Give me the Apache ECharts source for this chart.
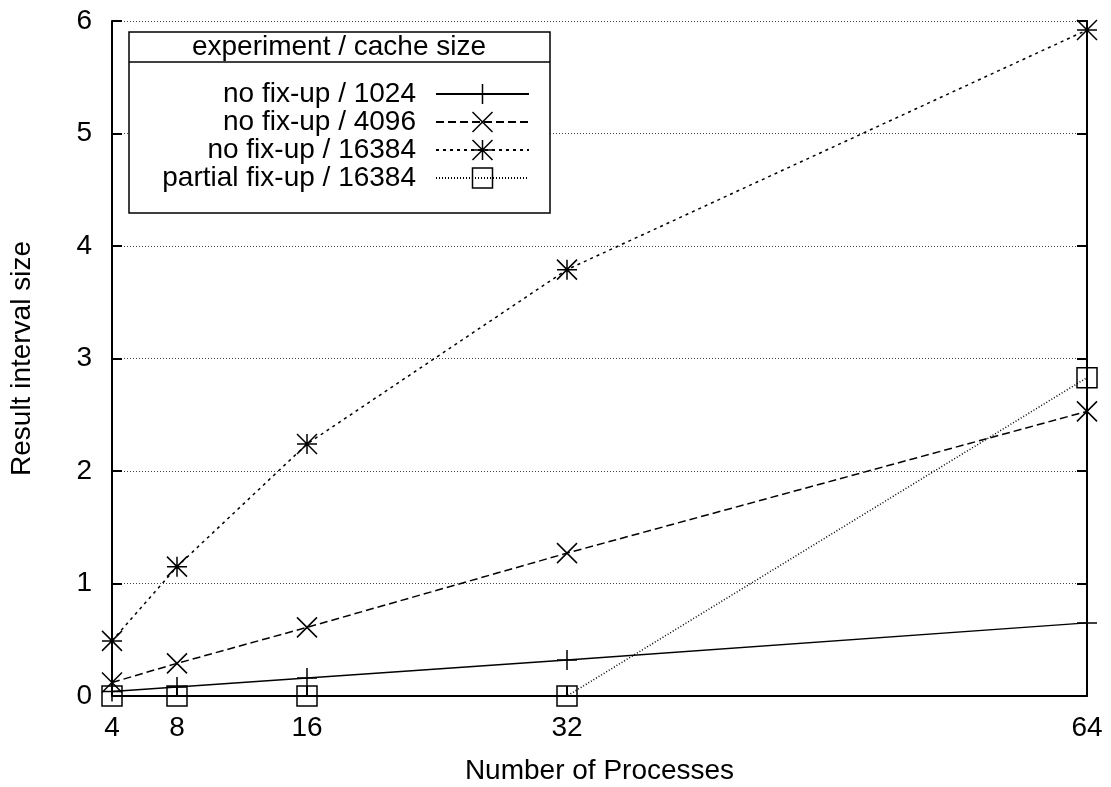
<!DOCTYPE html>
<html>
<head>
<meta charset="utf-8">
<title>Result interval size vs. number of processes</title>
<script src="https://cdn.jsdelivr.net/npm/echarts@6/dist/echarts.min.js"></script>
<style>
  html, body { margin: 0; padding: 0; background: #fff; }
  #chart { width: 1111px; height: 787px; }
</style>
</head>
<body>
<div id="chart"></div>
<script>
// Process counts on the x axis and their tick labels
const processes = [4, 8, 16, 32, 64];
const xTicks = [4, 8, 16, 32, 64];

// Result interval size per experiment / cache size
const noFix1024 = [0.04, 0.08, 0.16, 0.32, 0.65];
const noFix4096 = [0.12, 0.29, 0.61, 1.27, 2.53];
const noFix16384 = [0.49, 1.15, 2.24, 3.79, 5.92];
const partialFix16384 = [0, 0, 0, 0, 2.83];

const seriesNames = [
  'no fix-up / 1024',
  'no fix-up / 4096',
  'no fix-up / 16384',
  'partial fix-up / 16384'
];
const legendTitle = 'experiment / cache size';

const FONT = '"Liberation Sans", Arial, Helvetica, sans-serif';
const FS = 28;

// gnuplot-like point shapes drawn as stroked paths
const SYM_PLUS = 'path://M10,0V20M0,10H20';
const SYM_CROSS = 'path://M0,0L20,20M20,0L0,20';
const SYM_STAR = 'path://M10,0V20M0,10H20M0,0L20,20M20,0L0,20';
const SYM_BOX = 'path://M0,0H20V20H0Z';

function pairs(values) {
  return processes.map((p, i) => [p, values[i]]);
}

function makeSeries(name, values, symbol, dash) {
  return {
    name: name,
    type: 'line',
    data: pairs(values),
    symbol: symbol,
    symbolSize: 20,
    showAllSymbol: true,
    lineStyle: { color: '#000', width: 1.5, type: dash },
    itemStyle: { color: 'transparent', borderColor: '#000', borderWidth: 1.5 },
    emphasis: { disabled: true },
    z: 3
  };
}

const chart = echarts.init(document.getElementById('chart'));

const option = {
  animation: false,
  backgroundColor: '#fff',
  textStyle: { fontFamily: FONT },
  grid: {
    left: 112, right: 24, top: 21, bottom: 91,
    containLabel: false,
    outerBoundsMode: 'none'
  },
  xAxis: {
    type: 'value',
    min: 4,
    max: 64,
    name: 'Number of Processes',
    nameLocation: 'middle',
    nameGap: 61,
    nameTextStyle: { fontFamily: FONT, fontSize: FS, color: '#000' },
    axisLine: { show: true, onZero: false, lineStyle: { color: '#000', width: 2 } },
    axisTick: { show: true, inside: true, length: 10, customValues: xTicks, lineStyle: { color: '#000', width: 2 } },
    axisLabel: { customValues: xTicks, fontFamily: FONT, fontSize: FS, color: '#000', margin: 18 },
    splitLine: { show: false }
  },
  yAxis: [
    {
      type: 'value',
      min: 0,
      max: 6,
      interval: 1,
      name: 'Result interval size',
      nameLocation: 'middle',
      nameGap: 76,
      nameRotate: 90,
      nameTextStyle: { fontFamily: FONT, fontSize: FS, color: '#000' },
      axisLine: { show: true, lineStyle: { color: '#000', width: 2 } },
      axisTick: { show: true, inside: true, length: 10, lineStyle: { color: '#000', width: 2 } },
      axisLabel: { fontFamily: FONT, fontSize: FS, color: '#000', margin: 20 },
      splitLine: { show: true, lineStyle: { color: '#444', width: 1, type: [1, 2] } }
    },
    {
      type: 'value',
      position: 'right',
      min: 0,
      max: 6,
      interval: 1,
      axisLine: { show: true, lineStyle: { color: '#000', width: 2 } },
      axisTick: { show: true, inside: true, length: 10, lineStyle: { color: '#000', width: 2 } },
      axisLabel: { show: false },
      splitLine: { show: false }
    }
  ],
  legend: {
    orient: 'vertical',
    align: 'right',
    right: 581,
    top: 80,
    padding: 0,
    itemGap: 0,
    itemWidth: 93,
    itemHeight: 25,
    selectedMode: false,
    z: 8,
    textStyle: {
      fontFamily: FONT, fontSize: FS, color: '#000',
      lineHeight: 25, padding: [0, 15, 0, 0]
    },
    itemStyle: { borderWidth: 1.5, borderColor: '#000', color: 'transparent' },
    data: seriesNames
  },
  graphic: [
    {
      type: 'rect',
      z: 7,
      shape: { x: 129, y: 32, width: 421, height: 181 },
      style: { fill: '#fff', stroke: '#000', lineWidth: 1.5 }
    },
    {
      type: 'line',
      z: 7,
      shape: { x1: 129, y1: 62, x2: 550, y2: 62 },
      style: { stroke: '#000', lineWidth: 1.5 }
    },
    {
      type: 'text',
      z: 8,
      x: 339,
      y: 47,
      style: {
        text: legendTitle,
        fontFamily: FONT, fontSize: FS, fill: '#000',
        textAlign: 'center', textVerticalAlign: 'middle'
      }
    }
  ],
  series: [
    makeSeries(seriesNames[0], noFix1024, SYM_PLUS, 'solid'),
    makeSeries(seriesNames[1], noFix4096, SYM_CROSS, [8, 4]),
    makeSeries(seriesNames[2], noFix16384, SYM_STAR, [3, 4]),
    makeSeries(seriesNames[3], partialFix16384, SYM_BOX, [1, 2])
  ]
};

chart.setOption(option);
</script>
</body>
</html>
